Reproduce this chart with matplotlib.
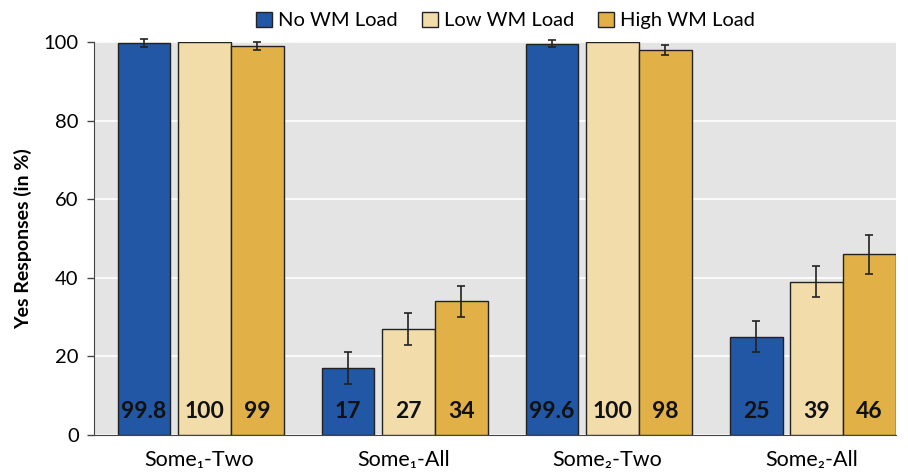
import matplotlib
matplotlib.use("Agg")
import matplotlib.pyplot as plt
import numpy as np

plt.rcParams['font.family'] = ['Lato', 'DejaVu Sans']

categories = ["Some\u2081-Two", "Some\u2081-All", "Some\u2082-Two", "Some\u2082-All"]
series_names = ["No WM Load", "Low WM Load", "High WM Load"]
no_load = [99.8, 17, 99.6, 25]
low_load = [100, 27, 100, 39]
high_load = [99, 34, 98, 46]
no_err = [1, 4, 1, 4]
low_err = [0, 4, 0, 4]
high_err = [1, 4, 1.2, 5]
value_labels = [["99.8", "17", "99.6", "25"],
                ["100", "27", "100", "39"],
                ["99", "34", "98", "46"]]
yticks = [0, 20, 40, 60, 80, 100]

colors = ["#2157A4", "#F2DDAA", "#E1B046"]
offsets = [-0.26, 0.035, 0.295]
width = 0.258

fig = plt.figure(figsize=(9.08, 4.75), dpi=100)
ax = fig.add_axes([0.1035, 0.0842, 0.8833, 0.8274])
ax.set_facecolor("#E4E4E4")

x = np.arange(len(categories))
vals = [no_load, low_load, high_load]
errs = [no_err, low_err, high_err]
for i in range(3):
    ax.bar(x + offsets[i], vals[i], width=width, color=colors[i],
           edgecolor="#222222", linewidth=1.0, label=series_names[i], zorder=3)
    e = np.array(errs[i], dtype=float)
    mask = e > 0
    eb = ax.errorbar((x + offsets[i])[mask], np.array(vals[i])[mask], yerr=e[mask],
                     fmt="none", ecolor="#222222", elinewidth=1.2, capsize=3,
                     capthick=1.2, zorder=4)
    for art in eb.lines[1] + eb.lines[2]:
        art.set_clip_on(False)
    for j in range(len(categories)):
        ax.text(x[j] + offsets[i], 6, value_labels[i][j], ha="center",
                va="center", fontsize=16.5, fontweight="bold", color="#111111",
                zorder=5)

ax.set_xlim(-0.505, 3.425)
ax.set_ylim(0, 100)
ax.set_yticks(yticks)
ax.set_yticklabels([str(t) for t in yticks], fontsize=14.5)
ax.set_xticks(x + 0.01)
ax.set_xticklabels(categories, fontsize=15.5)
ax.tick_params(axis="x", length=0, pad=11)
ax.tick_params(axis="y", length=5, width=1, color="#444444", pad=6)
ax.yaxis.grid(True, color="white", linewidth=1.2, zorder=1)
ax.set_axisbelow(True)
for s in ["top", "right"]:
    ax.spines[s].set_visible(False)
ax.spines["left"].set_color("#444444")
ax.spines["bottom"].set_color("#444444")
ax.set_ylabel("Yes Responses (in %)", fontsize=14, fontweight="bold", labelpad=8)

leg = ax.legend(loc="center", bbox_to_anchor=(0.513, 1.055), ncol=3,
                frameon=False, fontsize=14.5, handlelength=0.8, handleheight=0.8,
                handletextpad=0.3, columnspacing=1.2)

fig.savefig("out.png", dpi=100)
